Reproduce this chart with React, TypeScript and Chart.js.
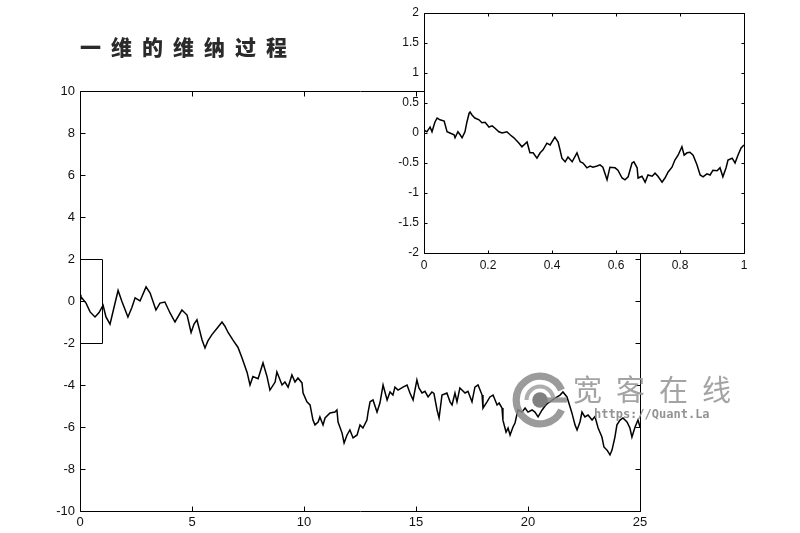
import React, { useEffect, useRef } from 'react';
import { Chart, registerables } from 'chart.js';

Chart.register(...registerables);

// ---- Main path (time 0..25) ----
const mainX = [
  0, 0.04, 0.27, 0.45, 0.67, 0.85, 1.03, 1.16, 1.34, 1.52,
  1.70, 1.88, 2.14, 2.32, 2.46, 2.68, 2.95, 3.13, 3.39, 3.57,
  3.79, 4.02, 4.24, 4.55, 4.78, 4.96, 5.09, 5.22, 5.45, 5.58,
  5.71, 5.89, 6.12, 6.34, 6.47, 6.61, 6.83, 7.05, 7.23, 7.46,
  7.59, 7.72, 7.95, 8.17, 8.35, 8.48, 8.71, 8.79, 9.02, 9.15,
  9.29, 9.46, 9.60, 9.73, 9.91, 9.96, 10.13, 10.27, 10.40, 10.49,
  10.63, 10.71, 10.85, 10.94, 11.16, 11.38, 11.47, 11.52, 11.70, 11.79,
  11.92, 12.05, 12.19, 12.37, 12.50, 12.63, 12.81, 12.86, 12.95, 13.08,
  13.26, 13.39, 13.53, 13.71, 13.84, 13.97, 14.06, 14.20, 14.42, 14.60,
  14.73, 14.87, 15.04, 15.13, 15.27, 15.40, 15.54, 15.71, 15.80, 15.94,
  16.03, 16.16, 16.38, 16.52, 16.61, 16.74, 16.83, 16.96, 17.19, 17.32,
  17.50, 17.63, 17.77, 17.95, 17.99, 18.17, 18.30, 18.44, 18.62, 18.71,
  18.84, 18.88, 19.02, 19.11, 19.20, 19.33, 19.42, 19.55, 19.73, 19.87,
  20.00, 20.18, 20.31, 20.45, 20.63, 20.76, 20.89, 20.98, 21.21, 21.43,
  21.56, 21.74, 21.88, 21.96, 22.10, 22.19, 22.32, 22.41, 22.54, 22.68,
  22.86, 22.99, 23.13, 23.30, 23.39, 23.53, 23.66, 23.75, 23.88, 23.97,
  24.11, 24.24, 24.42, 24.55, 24.64, 24.78, 24.91, 25.00,
];
const mainY = [
  0.30, 0.20, -0.10, -0.52, -0.76, -0.55, -0.20, -0.76, -1.10, -0.30,
  0.50, -0.05, -0.76, -0.30, 0.15, 0.00, 0.67, 0.38, -0.43, -0.10,
  -0.05, -0.57, -1.00, -0.43, -0.67, -1.50, -1.10, -0.90, -1.86, -2.24,
  -1.90, -1.60, -1.30, -1.00, -1.20, -1.50, -1.86, -2.20, -2.70, -3.40,
  -4.00, -3.60, -3.70, -2.95, -3.60, -4.24, -3.86, -3.38, -4.00, -3.86,
  -4.10, -3.52, -3.86, -3.67, -3.90, -4.38, -4.80, -4.95, -5.67, -5.90,
  -5.76, -5.52, -5.90, -5.57, -5.33, -5.29, -5.19, -5.76, -6.29, -6.76,
  -6.38, -6.14, -6.52, -6.38, -5.90, -6.05, -5.67, -5.30, -4.80, -4.71,
  -5.29, -4.86, -4.00, -4.71, -4.33, -4.48, -4.10, -4.24, -4.10, -4.00,
  -4.38, -4.71, -3.76, -4.14, -4.38, -4.30, -4.57, -4.33, -4.40, -5.19,
  -5.57, -4.48, -4.38, -4.80, -4.95, -4.38, -4.80, -4.14, -4.38, -4.30,
  -4.80, -4.10, -4.00, -4.48, -5.10, -4.80, -4.57, -4.48, -4.95, -4.86,
  -5.10, -5.67, -6.24, -6.05, -6.38, -6.00, -5.81, -5.19, -5.29, -5.10,
  -5.29, -5.19, -5.29, -5.52, -5.19, -5.00, -4.86, -4.80, -4.62, -4.48,
  -4.33, -4.57, -5.05, -5.33, -5.90, -6.14, -5.76, -5.29, -5.52, -5.43,
  -5.67, -5.50, -6.05, -6.48, -6.95, -7.10, -7.33, -7.10, -6.48, -5.90,
  -5.67, -5.57, -5.76, -6.05, -6.48, -6.00, -5.67, -6.00,
];

// ---- Inset path (time 0..1) ----
const insetX = [
  0, 0.009, 0.019, 0.025, 0.034, 0.041, 0.05, 0.063, 0.072, 0.081,
  0.094, 0.097, 0.106, 0.113, 0.119, 0.128, 0.134, 0.141, 0.144, 0.15,
  0.159, 0.172, 0.181, 0.191, 0.203, 0.213, 0.222, 0.234, 0.244, 0.259,
  0.269, 0.281, 0.297, 0.306, 0.322, 0.331, 0.341, 0.353, 0.363, 0.372,
  0.384, 0.394, 0.409, 0.419, 0.425, 0.431, 0.441, 0.45, 0.463, 0.478,
  0.488, 0.497, 0.509, 0.519, 0.528, 0.541, 0.55, 0.559, 0.572, 0.581,
  0.597, 0.606, 0.619, 0.628, 0.638, 0.65, 0.656, 0.666, 0.669, 0.681,
  0.691, 0.7, 0.713, 0.722, 0.731, 0.744, 0.753, 0.763, 0.775, 0.784,
  0.794, 0.806, 0.813, 0.822, 0.831, 0.841, 0.853, 0.863, 0.872, 0.884,
  0.894, 0.903, 0.916, 0.925, 0.934, 0.944, 0.95, 0.963, 0.972, 0.981,
  0.991, 1.0,
];
const insetY = [
  0.05, 0.02, 0.10, 0.02, 0.18, 0.25, 0.22, 0.20, 0.02, 0.00,
  -0.03, -0.08, 0.02, -0.03, -0.08, 0.02, 0.18, 0.33, 0.35, 0.30,
  0.25, 0.22, 0.17, 0.18, 0.10, 0.12, 0.08, 0.02, 0.00, 0.02,
  -0.03, -0.08, -0.17, -0.23, -0.15, -0.33, -0.33, -0.42, -0.33, -0.28,
  -0.17, -0.20, -0.07, -0.15, -0.28, -0.42, -0.48, -0.40, -0.48, -0.33,
  -0.48, -0.50, -0.58, -0.55, -0.57, -0.55, -0.53, -0.57, -0.78, -0.57,
  -0.58, -0.62, -0.75, -0.78, -0.73, -0.50, -0.48, -0.58, -0.75, -0.72,
  -0.82, -0.70, -0.72, -0.67, -0.72, -0.82, -0.75, -0.65, -0.57, -0.45,
  -0.37, -0.23, -0.37, -0.33, -0.32, -0.37, -0.53, -0.70, -0.73, -0.68,
  -0.70, -0.62, -0.63, -0.58, -0.73, -0.58, -0.45, -0.42, -0.50, -0.37,
  -0.25, -0.20,
];

// ---- Tick values ----
const mainXTicks = [0, 5, 10, 15, 20, 25];
const mainYTicks = [-10, -8, -6, -4, -2, 0, 2, 4, 6, 8, 10];
const insetXTicks = [0, 0.2, 0.4, 0.6, 0.8, 1];
const insetYTicks = [-2, -1.5, -1, -0.5, 0, 0.5, 1, 1.5, 2];

// zoom window marked on the main axes (data space)
const zoomWindowX = [0, 1];
const zoomWindowY = [-2, 2];

const TITLE = '一维的维纳过程';
const FONT = "'Liberation Sans', Arial, sans-serif";

function framePlugin(tickLen: number, fillWhite: boolean, markWindow: boolean) {
  return {
    id: 'frameTicks',
    beforeDraw(chart: any) {
      if (!fillWhite) return;
      const { ctx, chartArea: a } = chart;
      ctx.save();
      ctx.fillStyle = '#ffffff';
      ctx.fillRect(a.left, a.top, a.right - a.left + 1, a.bottom - a.top + 1);
      ctx.restore();
    },
    afterDraw(chart: any) {
      const { ctx, chartArea: a, scales } = chart;
      const xs = scales.x;
      const ys = scales.y;
      ctx.save();
      ctx.strokeStyle = '#000';
      ctx.lineWidth = 1;
      const L = Math.round(a.left) + 0.5;
      const R = Math.round(a.right) + 0.5;
      const T = Math.round(a.top) + 0.5;
      const B = Math.round(a.bottom) + 0.5;
      ctx.beginPath();
      ctx.rect(L, T, R - L, B - T);
      for (const t of xs.ticks) {
        const p = Math.round(xs.getPixelForValue(t.value)) + 0.5;
        ctx.moveTo(p, B);
        ctx.lineTo(p, B - tickLen);
        ctx.moveTo(p, T);
        ctx.lineTo(p, T + tickLen);
      }
      for (const t of ys.ticks) {
        const p = Math.round(ys.getPixelForValue(t.value)) + 0.5;
        ctx.moveTo(L, p);
        ctx.lineTo(L + tickLen, p);
        ctx.moveTo(R, p);
        ctx.lineTo(R - tickLen, p);
      }
      ctx.stroke();
      if (markWindow) {
        const x0 = Math.round(xs.getPixelForValue(zoomWindowX[0])) + 0.5;
        const x1 = Math.round(xs.getPixelForValue(zoomWindowX[1])) + 0.5;
        const y0 = Math.round(ys.getPixelForValue(zoomWindowY[0])) + 0.5;
        const y1 = Math.round(ys.getPixelForValue(zoomWindowY[1])) + 0.5;
        ctx.beginPath();
        ctx.rect(x0, y1, x1 - x0, y0 - y1);
        ctx.stroke();
      }
      ctx.restore();
    },
  };
}

function makeScales(xt: number[], yt: number[], yWidth: number, xHeight: number, fontSize: number, xPad: number, yPad: number) {
  const tickFont = { family: FONT, size: fontSize };
  return {
    x: {
      type: 'linear' as const,
      min: xt[0],
      max: xt[xt.length - 1],
      afterBuildTicks: (s: any) => { s.ticks = xt.map((v) => ({ value: v })); },
      afterFit: (s: any) => { s.height = xHeight; },
      grid: { display: false, drawTicks: false },
      border: { display: false },
      ticks: {
        padding: xPad, font: tickFont, color: '#111', maxRotation: 0, autoSkip: false,
        callback: (v: any) => String(v),
      },
    },
    y: {
      type: 'linear' as const,
      min: yt[0],
      max: yt[yt.length - 1],
      afterBuildTicks: (s: any) => { s.ticks = yt.map((v) => ({ value: v })); },
      afterFit: (s: any) => { s.width = yWidth; },
      grid: { display: false, drawTicks: false },
      border: { display: false },
      ticks: {
        padding: yPad, font: tickFont, color: '#111', autoSkip: false,
        callback: (v: any) => String(v),
      },
    },
  };
}

export default function App() {
  const mainRef = useRef<HTMLCanvasElement>(null);
  const insetRef = useRef<HTMLCanvasElement>(null);

  useEffect(() => {
    const mainChart = new Chart(mainRef.current as HTMLCanvasElement, {
      type: 'line',
      data: {
        datasets: [{
          data: mainX.map((x, i) => ({ x, y: mainY[i] })),
          borderColor: '#000',
          borderWidth: 1.5,
          pointRadius: 0,
          tension: 0,
          fill: false,
        }],
      },
      options: {
        responsive: false,
        animation: false,
        events: [],
        layout: { padding: { left: 30, top: 91, right: 160, bottom: 0 } },
        plugins: { legend: { display: false }, tooltip: { enabled: false }, title: { display: false } },
        scales: makeScales(mainXTicks, mainYTicks, 50, 22, 13, 4, 5) as any,
      },
      plugins: [framePlugin(5, false, true)],
    });

    const insetChart = new Chart(insetRef.current as HTMLCanvasElement, {
      type: 'line',
      data: {
        datasets: [{
          data: insetX.map((x, i) => ({ x, y: insetY[i] })),
          borderColor: '#000',
          borderWidth: 1.5,
          pointRadius: 0,
          tension: 0,
          fill: false,
        }],
      },
      options: {
        responsive: false,
        animation: false,
        events: [],
        layout: { padding: { left: 384, top: 13, right: 56, bottom: 255 } },
        plugins: { legend: { display: false }, tooltip: { enabled: false }, title: { display: false } },
        scales: makeScales(insetXTicks, insetYTicks, 40, 25, 12, 5, 5) as any,
      },
      plugins: [framePlugin(3, true, false)],
    });

    return () => {
      mainChart.destroy();
      insetChart.destroy();
    };
  }, []);

  return (
    <div style={{ position: 'fixed', left: 0, top: 0, width: 800, height: 533, background: '#fff', overflow: 'hidden' }}>
      <canvas ref={mainRef} width={800} height={533} style={{ position: 'absolute', left: 0, top: 0 }} />
      <canvas ref={insetRef} width={800} height={533} style={{ position: 'absolute', left: 0, top: 0 }} />
      <div style={{
        position: 'absolute', left: 80, top: 30, height: 32, lineHeight: '32px',
        fontFamily: "'Noto Sans CJK SC', sans-serif", fontWeight: 900, fontSize: 21,
        letterSpacing: 10, color: '#2a2a2a', whiteSpace: 'nowrap',
      }}>{TITLE}</div>
      <svg width={58} height={58} viewBox="0 0 56 56" style={{ position: 'absolute', left: 511, top: 371, opacity: 0.85 }}>
        <path d="M 48.85 18.28 A 23 23 0 1 0 48.85 37.72" fill="none" stroke="#8a8a8a" strokeWidth={7} />
        <path d="M 15 28 A 13 13 0 0 1 41 28" fill="none" stroke="#a0a0a0" strokeWidth={4} />
        <line x1={28} y1={28} x2={54} y2={28} stroke="#8a8a8a" strokeWidth={5} />
        <circle cx={28} cy={28} r={7.5} fill="#6a6a6a" />
      </svg>
      <div style={{
        position: 'absolute', left: 573, top: 371, height: 34, lineHeight: '34px',
        fontFamily: "'Noto Sans CJK SC', sans-serif", fontWeight: 400, fontSize: 29,
        letterSpacing: 14, color: '#999', opacity: 0.9, whiteSpace: 'nowrap',
      }}>宽客在线</div>
      <div style={{
        position: 'absolute', left: 594, top: 406, height: 16, lineHeight: '16px',
        fontFamily: "'DejaVu Sans Mono', monospace", fontWeight: 700, fontSize: 12,
        color: '#888', opacity: 0.9, whiteSpace: 'nowrap',
      }}>https://Quant.La</div>
    </div>
  );
}
